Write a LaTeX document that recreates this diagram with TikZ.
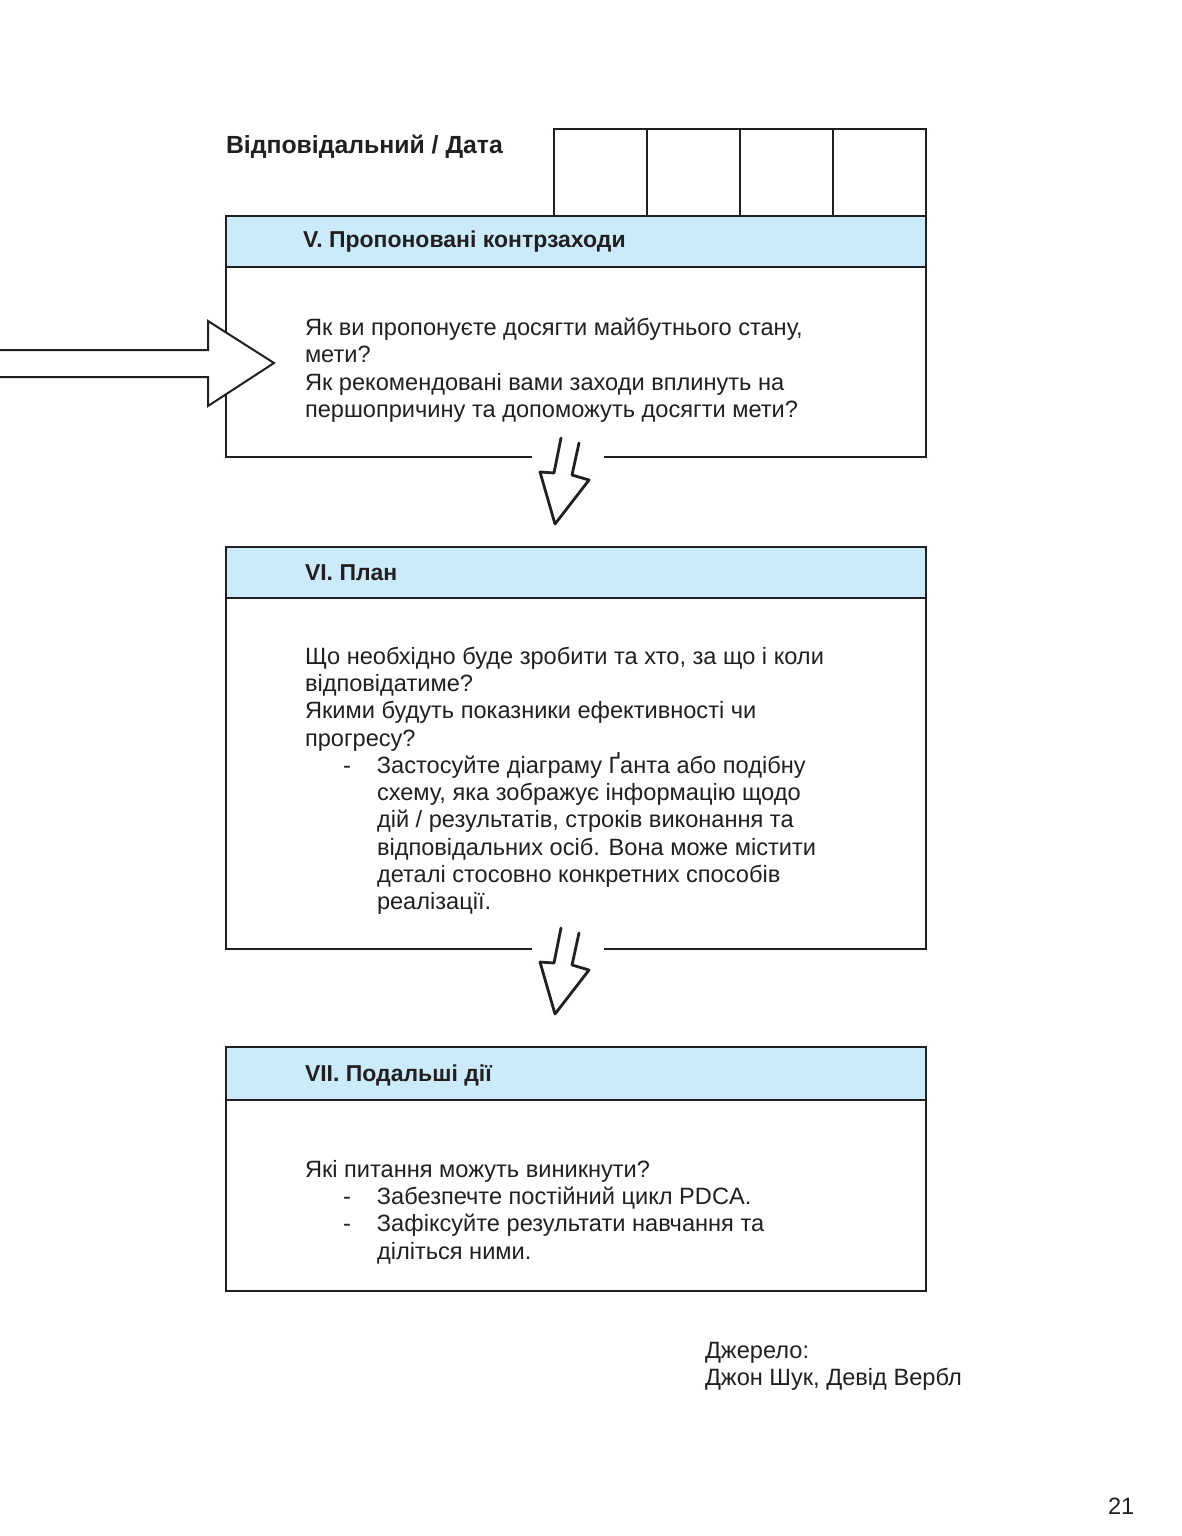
\documentclass[tikz,border=0pt]{standalone}
\usepackage{fontspec}
\setmainfont{Liberation Sans}
\usetikzlibrary{positioning}

\definecolor{hdrblue}{RGB}{204,235,250}
\definecolor{ink}{RGB}{35,31,32}

% list line with a dash, and its hanging lines
\newcommand{\dashitem}[1]{\makebox[36pt][l]{\hspace{19pt}-}#1}
\newcommand{\hangline}[1]{\hspace*{36pt}#1}

\begin{document}
\begin{tikzpicture}[x=0.5pt,y=-0.5pt,inner sep=0pt,outer sep=0pt,line width=1pt,
    every node/.style={text=ink},
    cell/.style={draw=ink,minimum width=46.5pt,minimum height=43.5pt,anchor=north west},
    hdr/.style={draw=ink,fill=hdrblue,minimum width=350pt,minimum height=25.5pt,anchor=north west},
    ttl/.style={font=\bfseries\fontsize{11.5}{14}\selectfont,anchor=west},
    body/.style={align=left,anchor=north west,font=\fontsize{11.8}{13.65}\selectfont},
    sketch/.style={draw=ink,line width=1.4pt,line join=round,line cap=round}]
    % 
    \useasboundingbox[fill=white] (0,0) rectangle (1182,1536);

    \node[ttl,font=\bfseries\fontsize{12.4}{14}\selectfont] (whoDate) at (226,147) {Відповідальний / Дата};
    \foreach \i in {0,...,3}
        \node[cell] (cell\i) at (554+93*\i,129) {};

    % V
    \node[hdr] (hdrV) at (226,216) {};
    \node[ttl] (ttlV) at (303,242) {V. Пропоновані контрзаходи};
    \coordinate (gapVl) at (532,457);
    \coordinate (gapVr) at (604,457);
    \draw[ink] (hdrV.south west) |- (gapVl);
    \draw[ink] (gapVr) -| (hdrV.south east);
    \node[body] (txtV) at (305,316.5)
    {\strut Як ви пропонуєте досягти майбутнього стану,\\
    мети?\\
    Як рекомендовані вами заходи вплинуть на\\
    першопричину та допоможуть досягти мети?};

    % VI
    \node[hdr] (hdrVI) at (226,547) {};
    \node[ttl] (ttlVI) at (305,573) {VI. План};
    \coordinate (gapVIl) at (532,949);
    \coordinate (gapVIr) at (604,949);
    \draw[ink] (hdrVI.south west) |- (gapVIl);
    \draw[ink] (gapVIr) -| (hdrVI.south east);
    \node[body] (txtVI) at (305,645)
    {\strut Що необхідно буде зробити та хто, за що і коли\\
    відповідатиме?\\
    Якими будуть показники ефективності чи\\
    прогресу?\\
    \dashitem{Застосуйте діаграму Ґанта або подібну}\\
    \hangline{схему, яка зображує інформацію щодо}\\
    \hangline{дій / результатів, строків виконання та}\\
    \hangline{відповідальних осіб. Вона може містити}\\
    \hangline{деталі стосовно конкретних способів}\\
    \hangline{реалізації.}};

    % VII
    \node[hdr,minimum height=26.5pt] (hdrVII) at (226,1047) {};
    \node[ttl] (ttlVII) at (305,1075) {VII. Подальші дії};
    \draw[ink] (hdrVII.south west) rectangle (926,1291);
    \node[body] (txtVII) at (305,1158)
    {\strut Які питання можуть виникнути?\\
    \dashitem{Забезпечте постійний цикл PDCA.}\\
    \dashitem{Зафіксуйте результати навчання та}\\
    \hangline{діліться ними.}};

    % arrows
    \draw[ink,fill=white,line join=miter] (0,350) -- (208,350) -- (208,321) -- (274,363)
        -- (208,406) -- (208,377) -- (0,377);
    \foreach \dy in {0,490}
        \draw[sketch,shift={(0,\dy)}] (561,438) -- (554,473) -- (540,472) -- (555,524)
            -- (589,480) -- (572,475) -- (579,443);

    \node[body] (source) at (705,1339)
    {\strut Джерело:\\
    Джон Шук, Девід Вербл};
    \node[anchor=base west,font=\fontsize{11.8}{13.65}\selectfont] (pgnum) at (1108,1514) {21};
\end{tikzpicture}
\end{document}
